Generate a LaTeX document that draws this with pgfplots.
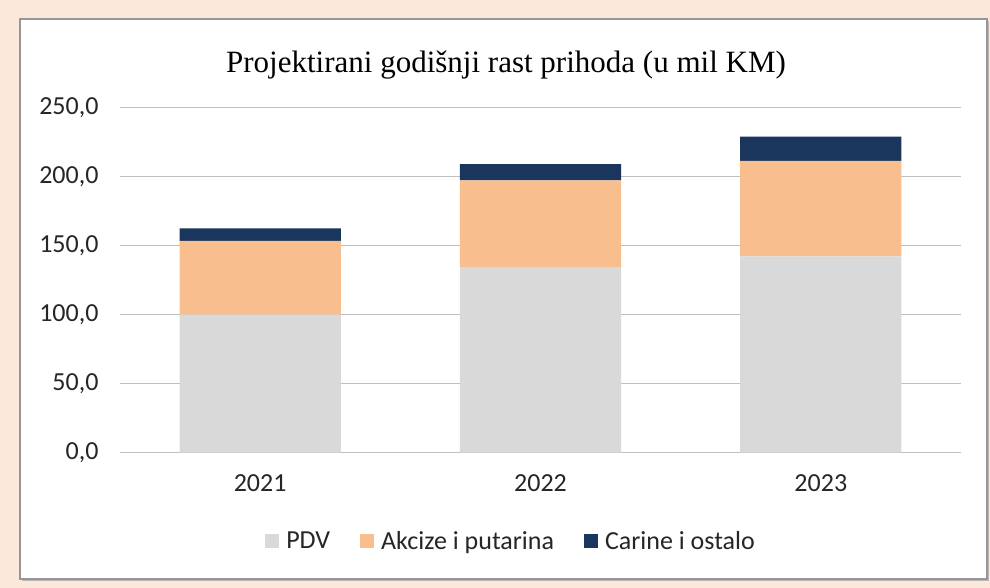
\documentclass[border=0pt]{standalone}
\usepackage{pgfplots}
\pgfplotsset{compat=1.18}
\usepackage{fontspec}
\setmainfont{Carlito}
\newfontfamily\titlefont{Liberation Serif}
\definecolor{bgpeach}{RGB}{252,232,218}
\definecolor{pdv}{RGB}{217,217,217}
\definecolor{akc}{RGB}{248,190,142}
\definecolor{car}{RGB}{26,54,93}
\definecolor{gridc}{RGB}{191,191,191}
\definecolor{framec}{RGB}{150,150,150}
\begin{document}
\begin{tikzpicture}[x=1pt,y=1pt]
\useasboundingbox (0,0) rectangle (990,588);
\fill[bgpeach] (0,0) rectangle (990,588);
\fill[gray!55] (22,7) rectangle (989,567);
\filldraw[fill=white,draw=framec,line width=1.5pt] (20,9) rectangle (987,569);
\node[font=\titlefont\fontsize{31}{36}\selectfont, anchor=center] at (506,523) {Projektirani godišnji rast prihoda (u mil KM)};
\begin{axis}[
  at={(120pt,135.3pt)}, anchor=south west, scale only axis,
  width=841pt, height=345pt,
  ymin=0, ymax=250, xmin=-0.5, xmax=2.5,
  ybar stacked, bar width=0.575,
  axis line style={draw=none},
  major tick length=0pt,
  ymajorgrids, grid style={draw=gridc, line width=1.6pt},
  ytick={0,50,100,150,200,250},
  xtick={0,1,2}, xticklabels={2021,2022,2023},
  /pgf/number format/.cd, fixed, fixed zerofill, precision=1, use comma, assume math mode=true,
  /pgfplots/.cd,
  tick label style={font=\fontsize{26}{31}\selectfont, text=black!85},
  yticklabel style={xshift=-18pt},
  xticklabel style={yshift=-18pt},
  legend columns=-1,
  legend style={at={(0.465,-0.256)}, anchor=center, draw=none, fill=none,
    font=\fontsize{26}{31}\selectfont, text=black!85,
    /tikz/every even column/.append style={column sep=28pt}},
  legend image code/.code={\fill[#1] (0pt,-7pt) rectangle (14pt,7pt); \path (19pt,0pt);},
]
\addplot[fill=pdv, draw=none] coordinates {(0,100.0) (1,134.4) (2,142.3)};
\addplot[fill=akc, draw=none] coordinates {(0,53.5) (1,63.0) (2,69.2)};
\addplot[fill=car, draw=none] coordinates {(0,9.0) (1,11.7) (2,17.5)};
\legend{PDV, Akcize i putarina, Carine i ostalo}
\end{axis}
\end{tikzpicture}
\end{document}
